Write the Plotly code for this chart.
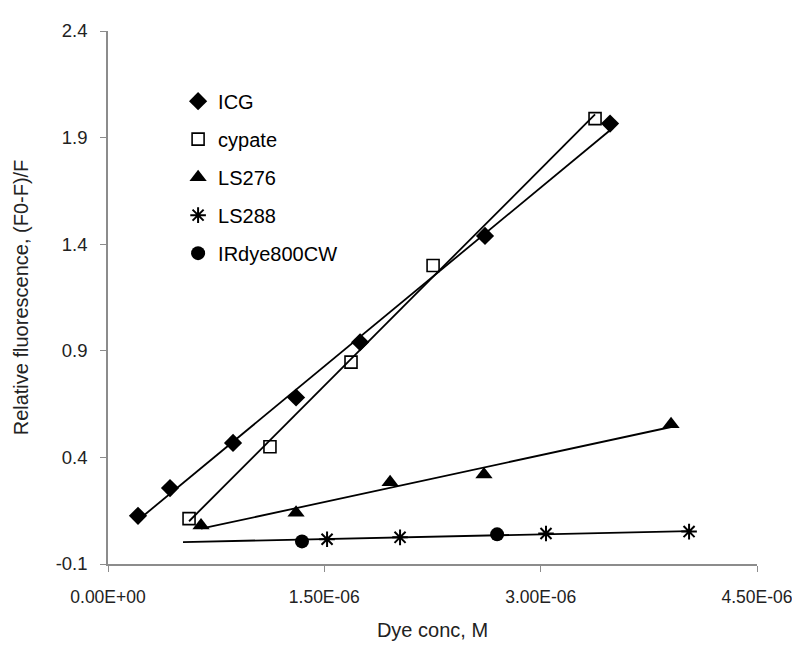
import numpy as np
import plotly.graph_objects as go

# ---- data (x in units of 1e-6 M) ----
icg_x = [0.208, 0.430, 0.867, 1.304, 1.748, 2.614, 3.481]
icg_y = [0.126, 0.256, 0.468, 0.681, 0.940, 1.439, 1.966]

cypate_x = [0.562, 1.123, 1.685, 2.254, 3.377]
cypate_y = [0.113, 0.450, 0.847, 1.300, 1.989]

ls276_x = [0.645, 1.304, 1.956, 2.607, 3.904]
ls276_y = [0.080, 0.140, 0.284, 0.320, 0.556]

ls288_x = [1.519, 2.025, 3.037, 4.029]
ls288_y = [0.016, 0.025, 0.043, 0.052]

irdye_x = [1.345, 2.698]
irdye_y = [0.006, 0.039]

# trendline x-extents (1e-6 M)
icg_trend = [0.208, 3.481]
cypate_trend = [0.562, 3.377]
ls276_trend = [0.645, 3.904]
ls288_trend = [0.52, 4.029]

x_ticks = [0.0, 1.5e-6, 3.0e-6, 4.5e-6]
y_ticks = [-0.1, 0.4, 0.9, 1.4, 1.9, 2.4]

SCALE = 1e-6
FONT = "Liberation Sans, Arial, sans-serif"

fig = go.Figure()

series = [
    ("ICG", icg_x, icg_y, dict(symbol="diamond", size=14, color="black")),
    ("cypate", cypate_x, cypate_y,
     dict(symbol="square-open", size=12, color="black", line=dict(width=1.6, color="black"))),
    ("LS276", ls276_x, ls276_y, dict(symbol="triangle-up", size=15, color="black")),
    ("LS288", ls288_x, ls288_y,
     dict(symbol="asterisk-open", size=13, color="black", line=dict(width=2, color="black"))),
    ("IRdye800CW", irdye_x, irdye_y, dict(symbol="circle", size=14, color="black")),
]

trends = [
    (icg_x, icg_y, icg_trend),
    (cypate_x, cypate_y, cypate_trend),
    (ls276_x, ls276_y, ls276_trend),
    (ls288_x, ls288_y, ls288_trend),
]

for xs, ys, rng in trends:
    m, b = np.polyfit(xs, ys, 1)
    tx = np.array(rng)
    fig.add_trace(go.Scatter(
        x=tx * SCALE, y=m * tx + b, mode="lines",
        line=dict(color="black", width=1.8), showlegend=False, hoverinfo="skip"))

for i, (name, xs, ys, mk) in enumerate(series):
    fig.add_trace(go.Scatter(
        x=np.array(xs) * SCALE, y=ys, mode="markers", name=name,
        marker=mk, legendgroup=f"g{i}"))

fig.update_layout(
    width=800, height=649,
    margin=dict(l=100, r=51, t=15, b=93),
    paper_bgcolor="white", plot_bgcolor="white",
    font=dict(family=FONT, size=17.5, color="#222222"),
    showlegend=True,
    legend=dict(x=0.108, y=0.905, xanchor="left", yanchor="top",
                font=dict(size=20, color="black"),
                traceorder="grouped", tracegroupgap=9,
                bgcolor="rgba(0,0,0,0)"),
)

fig.update_xaxes(
    range=[0, 4.5e-6], tickvals=x_ticks,
    ticktext=[f"{v:.2E}" for v in x_ticks],
    showgrid=False, zeroline=False,
    showline=True, linecolor="#8c8c8c", linewidth=1.5,
    ticks="outside", ticklen=6, tickcolor="#8c8c8c",
    ticklabelstandoff=10,
    title=dict(text="Dye conc, M", font=dict(size=20), standoff=17),
)
fig.update_yaxes(
    range=[-0.1, 2.4], tickvals=y_ticks,
    ticktext=[f"{v:.1f}" for v in y_ticks],
    tickfont=dict(size=18.5),
    showgrid=False, zeroline=False,
    showline=True, linecolor="#8c8c8c", linewidth=1.5,
    ticks="outside", ticklen=6, tickcolor="#8c8c8c",
    ticklabelstandoff=9,
    title=dict(text="Relative fluorescence, (F0-F)/F", font=dict(size=20), standoff=22),
)

fig.write_html("out.html")
